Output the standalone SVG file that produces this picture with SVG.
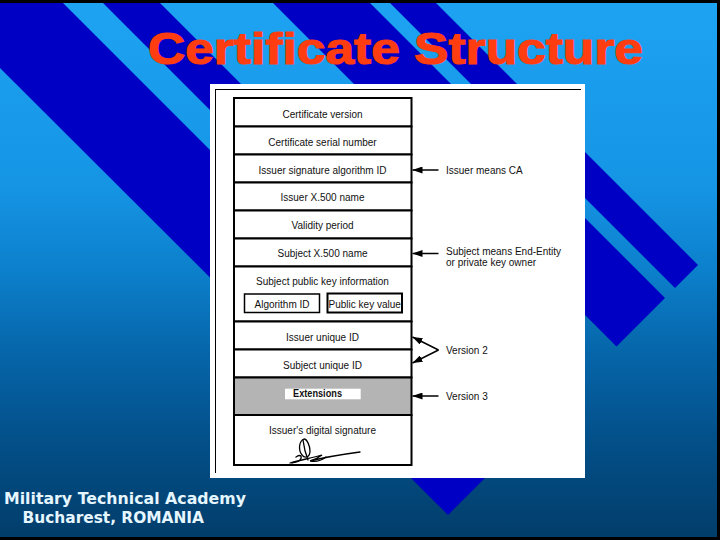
<svg xmlns="http://www.w3.org/2000/svg" width="720" height="540" viewBox="0 0 720 540">
  <defs>
    <linearGradient id="bg" x1="0" y1="0" x2="0" y2="1">
      <stop offset="0" stop-color="#1ea3f3"/>
      <stop offset="0.35" stop-color="#1594e4"/>
      <stop offset="0.5" stop-color="#0c80cc"/>
      <stop offset="0.65" stop-color="#0666aa"/>
      <stop offset="0.82" stop-color="#034f88"/>
      <stop offset="1" stop-color="#023d6a"/>
    </linearGradient>
    <marker id="ah" markerWidth="10" markerHeight="7" refX="10" refY="3.5" orient="auto" markerUnits="userSpaceOnUse">
      <path d="M0,0 L10,3.5 L0,7 z" fill="#000"/>
    </marker>
    <style>
      .band { fill: #0000c4; }
      .cell { fill: #fff; stroke: #000; stroke-width: 2; }
      .t { font-family: "Liberation Sans", Arial, sans-serif; font-size: 10px; fill: #111; }
      .tc { text-anchor: middle; }
      .conn { stroke: #000; stroke-width: 1.5; fill: none; marker-end: url(#ah); }
      .foot { font-family: "DejaVu Sans", Verdana, sans-serif; font-weight: bold; font-size: 16px; fill: #e6f6ff; }
    </style>
  </defs>

  <!-- background -->
  <rect x="0" y="0" width="720" height="540" fill="url(#bg)"/>
  <g id="stripes">
    <polygon class="band" points="0,0 60,0 511.5,451.5 448,515 0,68"/>
    <polygon class="band" points="100,0 157,0 560,403 531.5,431.5"/>
    <polygon class="band" points="270,0 367,0 665,298 616.5,346.5"/>
    <polygon class="band" points="387,0 433,0 698,265 675,288"/>
  </g>
  <rect x="0" y="0" width="720" height="3" fill="#000"/>
  <rect x="717" y="0" width="3" height="540" fill="#000"/>
  <rect x="0" y="537" width="720" height="3" fill="#000"/>

  <text x="148" y="64" font-family="Liberation Sans, Arial, sans-serif" font-weight="bold" font-size="44" fill="#ff3d10" stroke="#ff3d10" stroke-width="1.2" textLength="495" lengthAdjust="spacingAndGlyphs">Certificate Structure</text>

  <!-- white panel -->
  <rect x="210" y="84" width="375" height="394" fill="#fff"/>
  <line x1="215" y1="89.5" x2="581" y2="89.5" stroke="#000" stroke-width="1"/>
  <line x1="215.5" y1="89" x2="215.5" y2="473" stroke="#000" stroke-width="1"/>

  <g id="row-version">
    <rect class="cell" x="234" y="98" width="177.5" height="28.5"/>
    <text class="t tc" x="322.5" y="118">Certificate version</text>
  </g>
  <g id="row-serial">
    <rect class="cell" x="234" y="126.5" width="177.5" height="28"/>
    <text class="t tc" x="322.5" y="146">Certificate serial number</text>
  </g>
  <g id="row-sigalg">
    <rect class="cell" x="234" y="154.5" width="177.5" height="28"/>
    <text class="t tc" x="322.5" y="173.5">Issuer signature algorithm ID</text>
  </g>
  <g id="row-issuer">
    <rect class="cell" x="234" y="182.5" width="177.5" height="28"/>
    <text class="t tc" x="322.5" y="201">Issuer X.500 name</text>
  </g>
  <g id="row-validity">
    <rect class="cell" x="234" y="210.5" width="177.5" height="28"/>
    <text class="t tc" x="322.5" y="229">Validity period</text>
  </g>
  <g id="row-subject">
    <rect class="cell" x="234" y="238.5" width="177.5" height="28"/>
    <text class="t tc" x="322.5" y="257">Subject X.500 name</text>
  </g>
  <g id="row-pubkey">
    <rect class="cell" x="234" y="266.5" width="177.5" height="55"/>
    <text class="t tc" x="322.5" y="284.5">Subject public key information</text>
    <g id="algid">
      <rect x="244.5" y="294" width="75" height="18.5" fill="#fff" stroke="#000" stroke-width="1.5"/>
      <text class="t tc" x="282" y="307.5">Algorithm ID</text>
    </g>
    <g id="pkvalue">
      <rect x="327.5" y="293.5" width="74.5" height="19" fill="#fff" stroke="#000" stroke-width="2"/>
      <text class="t tc" x="364.7" y="307.5">Public key value</text>
    </g>
  </g>
  <g id="row-issueruid">
    <rect class="cell" x="234" y="321.5" width="177.5" height="28"/>
    <text class="t tc" x="322.5" y="341">Issuer unique ID</text>
  </g>
  <g id="row-subjectuid">
    <rect class="cell" x="234" y="349.5" width="177.5" height="28"/>
    <text class="t tc" x="322.5" y="368.5">Subject unique ID</text>
  </g>
  <g id="row-extensions">
    <rect x="234" y="377.5" width="177.5" height="37.5" fill="#b4b4b4" stroke="#000" stroke-width="2"/>
    <rect x="285" y="388.7" width="75.7" height="10.6" fill="#fff"/>
    <text class="t tc" x="317.5" y="397" font-weight="bold" textLength="49" lengthAdjust="spacingAndGlyphs">Extensions</text>
  </g>
  <g id="row-signature">
    <rect class="cell" x="234" y="415" width="177.5" height="50"/>
    <text class="t tc" x="322.5" y="433.5">Issuer's digital signature</text>
    <g id="signature-scribble" fill="none" stroke="#000" stroke-width="1.3" stroke-linecap="round">
      <path d="M304,439 C299,441 298,450 302,455 C305,459 310,457 310,451 C310,446 307,439 304,439 Z"/>
      <path d="M303,440 C304,448 306,455 308,460"/>
      <path d="M296,457 C300,454 303,456 300,460 C298,463 294,462 292,463"/>
      <path d="M290,463 C300,460 312,458 322,455 C318,458 314,460 310,461 C330,456 345,454 360,452"/>
      <path d="M311,461 C316,462 322,460 326,457"/>
    </g>
  </g>

  <g id="connectors">
    <line class="conn" x1="438.5" y1="170" x2="412.5" y2="170"/>
    <line class="conn" x1="438.5" y1="253.5" x2="412.5" y2="253.5"/>
    <line class="conn" x1="438.5" y1="350" x2="412.5" y2="337"/>
    <line class="conn" x1="438.5" y1="350" x2="412.5" y2="363"/>
    <line class="conn" x1="438.5" y1="396" x2="412.5" y2="396"/>
  </g>

  <g id="labels">
    <text class="t" x="446" y="173.5">Issuer means CA</text>
    <text class="t" x="446" y="255">Subject means End-Entity</text>
    <text class="t" x="446" y="266">or private key owner</text>
    <text class="t" x="446" y="353.5">Version 2</text>
    <text class="t" x="446" y="399.5">Version 3</text>
  </g>

  <g id="footer">
    <text class="foot" x="4" y="503.5" textLength="242" lengthAdjust="spacingAndGlyphs">Military Technical Academy</text>
    <text class="foot" x="22.5" y="522.5" textLength="181.5" lengthAdjust="spacingAndGlyphs">Bucharest, ROMANIA</text>
  </g>
</svg>
